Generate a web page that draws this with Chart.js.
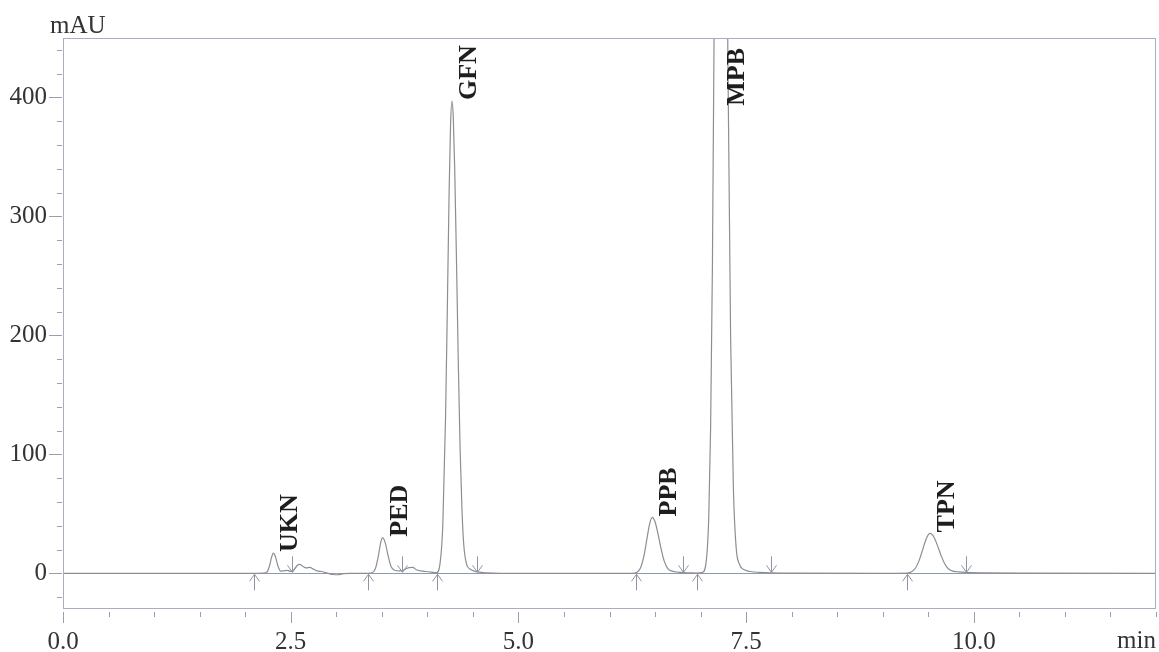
<!DOCTYPE html>
<html>
<head>
<meta charset="utf-8">
<title>Chromatogram</title>
<script src="https://cdn.jsdelivr.net/npm/chart.js@4.4.0/dist/chart.umd.min.js"></script>
<style>
    body { margin: 0; background: #ffffff; }
    #wrap { width: 1159px; height: 652px; position: relative; }
</style>
</head>
<body>
<div id="wrap"><canvas id="chart"></canvas></div>
<script>
// Retention time (min) and detector signal (mAU)
let timeMin = [
    0.0, 1.0, 2.0, 2.10, 2.20, 2.24, 2.27, 2.29, 2.31, 2.33, 2.36, 2.39, 2.42, 2.46, 2.50, 2.53,
    2.57, 2.60, 2.63, 2.67, 2.71, 2.75, 2.79, 2.84, 2.90, 2.96, 3.02, 3.08, 3.15, 3.35, 3.40, 3.43,
    3.46, 3.49, 3.51, 3.54, 3.57, 3.60, 3.64, 3.69, 3.72, 3.76, 3.80, 3.84, 3.88, 3.93, 3.98, 4.04,
    4.10, 4.14, 4.17, 4.20, 4.22, 4.24, 4.255, 4.27, 4.285, 4.30, 4.32, 4.34, 4.36, 4.38, 4.40, 4.43,
    4.47, 4.52, 4.55, 4.65, 4.80, 6.25, 6.30, 6.34, 6.38, 6.41, 6.44, 6.47, 6.50, 6.53, 6.56, 6.60,
    6.64, 6.69, 6.75, 6.81, 6.90, 6.96, 7.02, 7.06, 7.09, 7.11, 7.13, 7.15, 7.17, 7.19, 7.215, 7.24,
    7.27, 7.30, 7.33, 7.36, 7.39, 7.43, 7.48, 7.55, 7.65, 7.77, 8.0, 9.0, 9.27, 9.32, 9.36, 9.40,
    9.44, 9.48, 9.52, 9.56, 9.60, 9.64, 9.68, 9.72, 9.77, 9.83, 9.91, 10.1, 10.5, 12.0
];
let signalMau = [
    0, 0, 0, 0, 0.2, 1.1, 7, 13.6, 17, 14.5, 6.1, 1.8, 2, 2.5, 1.6, 2.6,
    6.5, 7.5, 6, 4.5, 5, 3.5, 2, 1.5, 0.3, -1, -1.2, -0.3, 0, 0, 0.7, 4,
    13.7, 26.5, 30, 25, 14.6, 6, 2.6, 2, 2.2, 3.5, 4.8, 5, 3, 2, 1.5, 1,
    0.6, 8.6, 41, 131, 225, 324, 377, 397, 383, 342, 263, 177, 104, 54, 24, 8,
    3.5, 1.8, 1.2, 0.4, 0, 0, 0.9, 4.5, 15.3, 28.5, 41.4, 47, 43.4, 34, 22.9, 10.5,
    4, 1.8, 1, 0.6, 0.3, 0.2, 0.8, 9, 48, 122, 259, 472, 734, 971, 1100, 1015,
    742, 430, 197, 72, 22, 7, 3, 1.5, 0.8, 0.4, 0.1, 0, 0.2, 1.5, 4.5, 10.9,
    20.3, 29.5, 33.5, 30.7, 23.5, 15.1, 8.1, 3.8, 1.8, 1.2, 0.8, 0.4, 0.1, 0
];

// Peak names and the integration start / end marks (min)
let peakNames = ["UKN", "PED", "GFN", "PPB", "MPB", "TPN"];
let peakStarts = [2.10, 3.35, 4.11, 6.29, 6.96, 9.27];
let peakEnds = [2.51, 3.72, 4.55, 6.81, 7.77, 9.91];

// Axis ticks and units
let xTickValues = [0, 2.5, 5, 7.5, 10];
let yTickValues = [0, 100, 200, 300, 400];
let xUnit = "min";
let yUnit = "mAU";

let serif = "'Liberation Serif', 'Times New Roman', serif";
let frameColor = "#a7aebd";
let tickColor = "#9a9fab";

// Frame, minor ticks, zero line, integration arrows, peak names and units
let chromDecor = {
    id: "chromDecor",
    beforeDatasetsDraw(chart) {
        let ctx = chart.ctx, area = chart.chartArea;
        let y0 = Math.round(chart.scales.y.getPixelForValue(0)) + 0.5;
        ctx.save();
        ctx.strokeStyle = "#8d99b8";
        ctx.lineWidth = 1;
        ctx.beginPath();
        ctx.moveTo(area.left, y0);
        ctx.lineTo(area.right, y0);
        ctx.stroke();
        ctx.restore();
    },
    afterDraw(chart) {
        let ctx = chart.ctx, area = chart.chartArea;
        let x = chart.scales.x, y = chart.scales.y;
        ctx.save();

        // frame
        ctx.strokeStyle = frameColor;
        ctx.lineWidth = 1;
        ctx.strokeRect(area.left + 0.5, area.top + 0.5, area.right - area.left - 1, area.bottom - area.top - 1);

        // x ticks: every 0.5 min, longer on the labelled ones
        ctx.strokeStyle = tickColor;
        ctx.beginPath();
        for (let v = 0; v <= x.max + 1e-9; v += 0.5) {
            let px = Math.round(x.getPixelForValue(v)) + 0.5;
            let len = xTickValues.includes(v) ? 11 : 5;
            ctx.moveTo(px, area.bottom + 3);
            ctx.lineTo(px, area.bottom + 3 + len);
        }
        // y ticks: every 20 mAU, longer every 100
        for (let v = Math.ceil(y.min / 20) * 20; v <= y.max; v += 20) {
            let py = Math.round(y.getPixelForValue(v)) + 0.5;
            let len = v % 100 === 0 ? 13 : 5;
            ctx.moveTo(area.left - 1, py);
            ctx.lineTo(area.left - 1 - len, py);
        }
        ctx.stroke();

        // integration marks: up arrows at start, down arrows at end
        let y0 = y.getPixelForValue(0);
        ctx.strokeStyle = "#8f94a0";
        ctx.beginPath();
        for (let t of peakStarts) {
            let px = Math.round(x.getPixelForValue(t)) + 0.5;
            ctx.moveTo(px, y0 + 17);
            ctx.lineTo(px, y0 + 1);
            ctx.moveTo(px - 5, y0 + 8);
            ctx.lineTo(px, y0 + 1);
            ctx.lineTo(px + 5, y0 + 8);
        }
        for (let t of peakEnds) {
            let px = Math.round(x.getPixelForValue(t)) + 0.5;
            ctx.moveTo(px, y0 - 17);
            ctx.lineTo(px, y0 - 1);
            ctx.moveTo(px - 5, y0 - 8);
            ctx.lineTo(px, y0 - 1);
            ctx.lineTo(px + 5, y0 - 8);
        }
        ctx.stroke();

        // peak names, rotated, next to each apex
        ctx.fillStyle = "#1e1e1e";
        ctx.font = "bold 26px " + serif;
        ctx.textAlign = "left";
        ctx.textBaseline = "alphabetic";
        for (let i = 0; i < peakNames.length; i++) {
            let best = -1;
            for (let k = 0; k < timeMin.length; k++) {
                if (timeMin[k] >= peakStarts[i] && timeMin[k] <= peakEnds[i]) {
                    if (best < 0 || signalMau[k] > signalMau[best]) best = k;
                }
            }
            let w = ctx.measureText(peakNames[i]).width;
            let px = x.getPixelForValue(timeMin[best]) + 24;
            let py = y.getPixelForValue(signalMau[best]) - 1;
            if (py - w < area.top + 2) py = area.top + 10 + w; // off-scale peak
            ctx.save();
            ctx.translate(px, py);
            ctx.rotate(-Math.PI / 2);
            ctx.fillText(peakNames[i], 0, 0);
            ctx.restore();
        }

        // units
        ctx.fillStyle = "#333333";
        ctx.font = "25px " + serif;
        ctx.textAlign = "left";
        ctx.fillText(yUnit, 50, 33);
        ctx.textAlign = "right";
        ctx.fillText(xUnit, area.right, 648);
        ctx.restore();
    }
};

new Chart(document.getElementById("chart"), 
{
    type: "line",
    data: 
    {
        datasets: [
            {
                data: timeMin.map((t, i) => ({ x: t, y: signalMau[i] })),
                borderColor: "#8e8e8e",
                borderWidth: 1.2,
                pointRadius: 0,
                cubicInterpolationMode: "monotone",
                fill: false
            }
        ]
    },
    options: 
    {
        responsive: true,
        maintainAspectRatio: false,
        animation: false,
        layout: { padding: { left: 0, top: 38, right: 3, bottom: 0 } },
        plugins: 
        {
            legend: { display: false },
            tooltip: { enabled: false }
        },
        scales: 
        {
            x: 
            {
                type: "linear",
                min: 0,
                max: 12,
                afterBuildTicks: (scale) => { scale.ticks = xTickValues.map(v => ({ value: v })); },
                afterFit: (scale) => { scale.height = 43; },
                grid: { display: false, drawTicks: false },
                border: { display: false },
                ticks: 
                {
                    autoSkip: false,
                    maxRotation: 0,
                    padding: 18,
                    color: "#333333",
                    font: { family: serif, size: 25 },
                    callback: (value) => Number(value).toFixed(1)
                }
            },
            y: 
            {
                type: "linear",
                min: -30,
                max: 450,
                afterBuildTicks: (scale) => { scale.ticks = yTickValues.map(v => ({ value: v })); },
                afterFit: (scale) => { scale.width = 63; },
                grid: { display: false, drawTicks: false },
                border: { display: false },
                ticks: 
                {
                    padding: 16,
                    color: "#333333",
                    font: { family: serif, size: 25 },
                    callback: (value) => value
                }
            }
        }
    },
    plugins: [chromDecor]
});
</script>
</body>
</html>
